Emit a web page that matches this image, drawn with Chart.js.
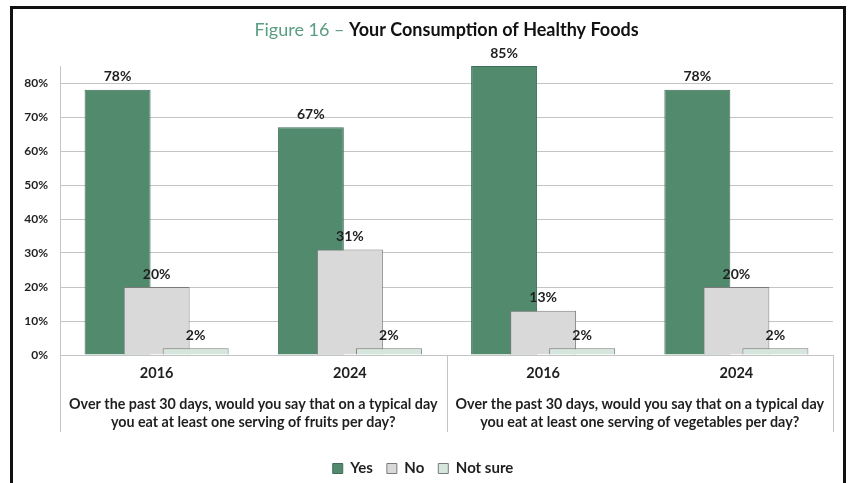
<!DOCTYPE html>
<html>
<head>
<meta charset="utf-8">
<script src="https://cdn.jsdelivr.net/npm/chart.js@4/dist/chart.umd.min.js"></script>
<style>
  html, body { margin: 0; padding: 0; background: #ffffff; overflow: hidden; }
  #frame { position: absolute; left: 10px; top: 6px; width: 830px; height: 600px; border: 3px solid #111111; }
  #wrap { position: absolute; left: 0; top: 0; width: 850px; height: 483px; }
</style>
</head>
<body>
<div id="frame"></div>
<div id="wrap"><canvas id="chart"></canvas></div>
<script>
// Survey years and the two questions they belong to
const years = ['2016', '2024', '2016', '2024'];
const questions = [
  ['Over the past 30 days, would you say that on a typical day', 'you eat at least one serving of fruits per day?'],
  ['Over the past 30 days, would you say that on a typical day', 'you eat at least one serving of vegetables per day?']
];
// Share of respondents (%)
const yesValues = [78, 67, 85, 78];
const noValues = [20, 31, 13, 20];
const notSureValues = [2, 2, 2, 2];
const yTicks = [0, 10, 20, 30, 40, 50, 60, 70, 80];

const FONT = 'Lato, "Open Sans", sans-serif';
const TEXT = '#1f1f1f';
const GRID = '#c4c4c4';

// Paint series in order so each later series overlaps the earlier one
const layerOrder = {
  id: 'layerOrder',
  beforeDatasetsDraw(chart) {
    chart.data.datasets.forEach((ds, i) => {
      if (chart.isDatasetVisible(i)) chart.getDatasetMeta(i).controller.draw();
    });
    return false;
  }
};

// Title, value labels, question labels and group separators
const decorations = {
  id: 'decorations',
  afterDraw(chart) {
    const ctx = chart.ctx;
    const area = chart.chartArea;
    const x = chart.scales.x;
    ctx.save();

    // title in two colours
    const t1 = 'Figure 16 \u2013 ';
    const t2 = 'Your Consumption of Healthy Foods';
    ctx.textBaseline = 'middle';
    ctx.font = '18px ' + FONT;
    const w1 = ctx.measureText(t1).width;
    ctx.font = 'bold 18px ' + FONT;
    const w2 = ctx.measureText(t2).width;
    const tx = (area.left + area.right) / 2 - (w1 + w2) / 2;
    ctx.textAlign = 'left';
    ctx.font = '18px ' + FONT;
    ctx.fillStyle = '#5a9e82';
    ctx.fillText(t1, tx, 30);
    ctx.font = 'bold 18px ' + FONT;
    ctx.fillStyle = '#111111';
    ctx.fillText(t2, tx + w1, 30);

    // value labels above each bar
    ctx.font = 'bold 14px ' + FONT;
    ctx.fillStyle = TEXT;
    ctx.textAlign = 'center';
    ctx.textBaseline = 'middle';
    chart.data.datasets.forEach((ds, i) => {
      chart.getDatasetMeta(i).data.forEach((bar, j) => {
        ctx.fillText(ds.data[j] + '%', bar.x, bar.y - 13);
      });
    });

    // separators between the question groups
    const half = (x.getPixelForValue(1) - x.getPixelForValue(0)) / 2;
    const bounds = [x.getPixelForValue(0) - half, x.getPixelForValue(1) + half, x.getPixelForValue(3) + half];
    ctx.strokeStyle = GRID;
    ctx.lineWidth = 1;
    bounds.forEach(b => {
      const px = Math.round(b) + 0.5;
      ctx.beginPath();
      ctx.moveTo(px, area.bottom);
      ctx.lineTo(px, area.bottom + 77);
      ctx.stroke();
    });

    // question labels under each pair of years
    ctx.font = 'bold 14.3px ' + FONT;
    ctx.fillStyle = TEXT;
    questions.forEach((lines, g) => {
      const cx = (x.getPixelForValue(g * 2) + x.getPixelForValue(g * 2 + 1)) / 2;
      lines.forEach((line, k) => {
        ctx.fillText(line, cx, area.bottom + 49 + k * 18);
      });
    });
    ctx.restore();
  }
};

new Chart(document.getElementById('chart'), {
  type: 'bar',
  data: {
    labels: years,
    datasets: [
      { label: 'Yes', data: yesValues, backgroundColor: '#528a6e', borderColor: '#3f6e57', borderWidth: 1 },
      { label: 'No', data: noValues, backgroundColor: '#d9d9d9', borderColor: '#7a7a7a', borderWidth: 1 },
      { label: 'Not sure', data: notSureValues, backgroundColor: '#d5e7dd', borderColor: '#7a7a7a', borderWidth: 1 }
    ]
  },
  options: {
    responsive: true,
    maintainAspectRatio: false,
    animation: false,
    categoryPercentage: 0.606,
    barPercentage: 1.69,
    layout: { padding: { left: 13, right: 17, top: 66, bottom: -3 } },
    plugins: {
      title: { display: false },
      tooltip: { enabled: false },
      legend: {
        position: 'bottom',
        labels: {
          boxWidth: 10,
          boxHeight: 10,
          padding: 14,
          color: TEXT,
          font: { family: FONT, size: 15, weight: 'bold' }
        }
      }
    },
    scales: {
      x: {
        grid: { display: false, drawTicks: false },
        border: { display: false },
        ticks: { color: TEXT, padding: 10, font: { family: FONT, size: 14.5, weight: 'bold' } },
        afterFit: s => { s.height = 92; }
      },
      y: {
        min: 0,
        max: 85,
        afterBuildTicks: s => { s.ticks = yTicks.map(v => ({ value: v })); },
        grid: { color: GRID, drawTicks: false },
        border: { color: GRID },
        ticks: {
          color: TEXT,
          padding: 12,
          font: { family: FONT, size: 12, weight: 'bold' },
          callback: v => v + '%'
        },
        afterFit: s => { s.width = 47; }
      }
    }
  },
  plugins: [layerOrder, decorations]
});
</script>
</body>
</html>
